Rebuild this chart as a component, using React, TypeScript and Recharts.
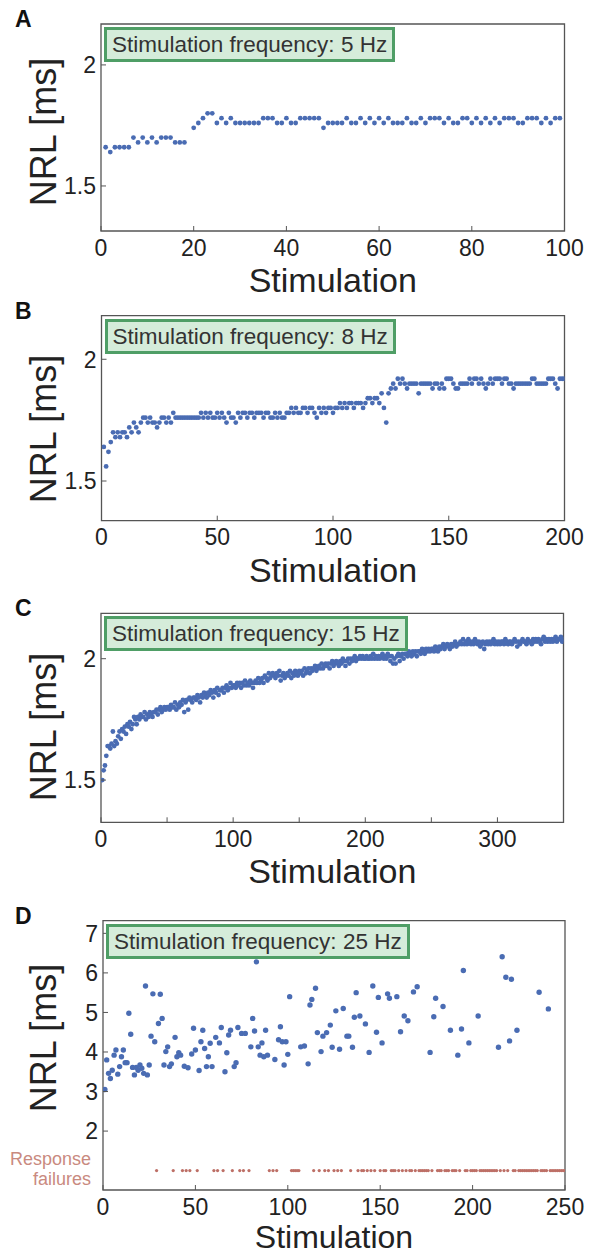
import { ScatterChart, Scatter, XAxis, YAxis, ReferenceArea } from "recharts";

const FONT = '"Liberation Sans", Arial, Helvetica, sans-serif';
const BLUE = "#4a6cb3";
const FAIL = "#bd6f66";
const FAIL_TEXT = "#c98a7f";
const FRAME = "#555";
const INK = "#222";

// Panel A: 5 Hz, NRL per stimulation (null = no point)
const nrl5Hz: (number | null)[] = [
  1.66, 1.64, 1.66, 1.66, 1.66, 1.66, 1.70, 1.68, 1.70, 1.68,
  1.70, 1.68, 1.70, 1.70, 1.70, 1.68, 1.68, 1.68, null, 1.74,
  1.76, 1.78, 1.80, 1.80, 1.76, 1.78, 1.76, 1.78, 1.76, 1.76,
  1.76, 1.76, 1.76, 1.76, 1.78, 1.78, 1.78, 1.76, 1.76, 1.78,
  1.76, 1.76, 1.78, 1.78, 1.78, 1.78, 1.78, 1.74, 1.76, 1.76,
  1.76, 1.76, 1.78, 1.76, 1.76, 1.78, 1.76, 1.78, 1.76, 1.78,
  1.76, 1.78, 1.76, 1.76, 1.76, 1.78, 1.76, 1.76, 1.78, 1.76,
  1.78, 1.78, 1.78, 1.76, 1.78, 1.76, 1.76, 1.78, 1.78, 1.76,
  1.78, 1.76, 1.78, 1.76, 1.78, 1.76, 1.78, 1.78, 1.78, 1.76,
  1.76, 1.78, 1.78, 1.78, 1.76, 1.78, 1.76, 1.78, 1.78,
];

// Panel B: 8 Hz
const nrl8Hz: number[] = [
  1.64, 1.56, 1.62, 1.66, 1.70, 1.68, 1.70, 1.68, 1.70, 1.70,
  1.68, 1.72, 1.70, 1.74, 1.72, 1.70, 1.74, 1.76, 1.76, 1.74,
  1.76, 1.74, 1.74, 1.72, 1.74, 1.76, 1.76, 1.74, 1.76, 1.74,
  1.78, 1.76, 1.76, 1.76, 1.76, 1.76, 1.76, 1.76, 1.76, 1.76,
  1.76, 1.76, 1.78, 1.76, 1.78, 1.76, 1.78, 1.76, 1.76, 1.78,
  1.76, 1.78, 1.76, 1.74, 1.78, 1.76, 1.76, 1.74, 1.78, 1.76,
  1.78, 1.78, 1.76, 1.78, 1.78, 1.76, 1.78, 1.78, 1.78, 1.76,
  1.78, 1.78, 1.76, 1.76, 1.78, 1.76, 1.78, 1.76, 1.76, 1.78,
  1.78, 1.80, 1.78, 1.80, 1.78, 1.78, 1.80, 1.80, 1.78, 1.80,
  1.80, 1.78, 1.76, 1.80, 1.78, 1.80, 1.78, 1.80, 1.80, 1.78,
  1.80, 1.80, 1.82, 1.80, 1.82, 1.80, 1.82, 1.82, 1.80, 1.82,
  1.82, 1.82, 1.80, 1.82, 1.84, 1.84, 1.82, 1.84, 1.84, 1.82,
  1.86, 1.80, 1.74, 1.86, 1.88, 1.90, 1.88, 1.92, 1.90, 1.92,
  1.90, 1.88, 1.90, 1.90, 1.90, 1.90, 1.86, 1.90, 1.90, 1.90,
  1.90, 1.90, 1.88, 1.90, 1.90, 1.88, 1.90, 1.88, 1.92, 1.92,
  1.92, 1.90, 1.88, 1.88, 1.90, 1.90, 1.90, 1.90, 1.92, 1.90,
  1.92, 1.92, 1.90, 1.92, 1.90, 1.88, 1.90, 1.92, 1.90, 1.92,
  1.92, 1.92, 1.90, 1.92, 1.92, 1.90, 1.90, 1.88, 1.90, 1.90,
  1.90, 1.90, 1.90, 1.90, 1.90, 1.92, 1.92, 1.90, 1.90, 1.90,
  1.90, 1.90, 1.92, 1.92, 1.92, 1.90, 1.88, 1.92, 1.92, 1.92,
];

// Panel C: 15 Hz
const nrl15Hz: number[] = [
  1.50, 1.54, 1.56, 1.60, 1.64, 1.64, 1.63, 1.65, 1.70, 1.64,
  1.66, 1.65, 1.68, 1.70, 1.67, 1.71, 1.70, 1.72, 1.69, 1.73,
  1.72, 1.74, 1.71, 1.73, 1.76, 1.75, 1.73, 1.76, 1.75, 1.77,
  1.76, 1.76, 1.78, 1.75, 1.77, 1.76, 1.78, 1.77, 1.76, 1.78,
  1.78, 1.79, 1.77, 1.79, 1.80, 1.78, 1.79, 1.80, 1.79, 1.80,
  1.80, 1.79, 1.81, 1.80, 1.80, 1.82, 1.79, 1.81, 1.80, 1.82,
  1.81, 1.83, 1.78, 1.82, 1.83, 1.79, 1.84, 1.83, 1.82, 1.84,
  1.84, 1.83, 1.85, 1.84, 1.82, 1.85, 1.84, 1.86, 1.85, 1.84,
  1.86, 1.85, 1.87, 1.86, 1.84, 1.87, 1.86, 1.88, 1.85, 1.87,
  1.87, 1.88, 1.86, 1.88, 1.89, 1.87, 1.88, 1.90, 1.88, 1.89,
  1.89, 1.88, 1.90, 1.89, 1.90, 1.88, 1.90, 1.89, 1.91, 1.89,
  1.90, 1.89, 1.91, 1.90, 1.88, 1.90, 1.91, 1.90, 1.92, 1.90,
  1.91, 1.92, 1.90, 1.93, 1.92, 1.91, 1.94, 1.92, 1.93, 1.94,
  1.93, 1.92, 1.94, 1.93, 1.95, 1.91, 1.93, 1.94, 1.92, 1.93,
  1.94, 1.93, 1.95, 1.92, 1.94, 1.93, 1.95, 1.94, 1.93, 1.95,
  1.94, 1.95, 1.93, 1.96, 1.94, 1.95, 1.96, 1.94, 1.96, 1.95,
  1.96, 1.97, 1.95, 1.96, 1.97, 1.96, 1.98, 1.96, 1.97, 1.98,
  1.97, 1.98, 1.96, 1.98, 1.99, 1.97, 1.98, 1.99, 1.98, 1.97,
  1.99, 1.98, 2.00, 1.99, 1.97, 1.99, 2.00, 1.98, 2.00, 1.99,
  2.00, 2.01, 1.99, 2.00, 2.00, 2.01, 2.00, 2.01, 2.00, 2.00,
  2.01, 2.00, 2.00, 2.01, 2.00, 2.02, 2.00, 2.01, 2.00, 2.01,
  2.00, 2.01, 2.02, 2.00, 2.01, 2.00, 2.02, 2.01, 1.99, 2.01,
  1.98, 2.00, 1.98, 2.01, 2.02, 1.99, 2.01, 2.02, 2.00, 2.02,
  2.02, 2.01, 2.03, 2.02, 2.01, 2.03, 2.02, 2.03, 2.01, 2.03,
  2.03, 2.02, 2.04, 2.03, 2.02, 2.04, 2.03, 2.04, 2.03, 2.04,
  2.04, 2.03, 2.05, 2.04, 2.03, 2.05, 2.04, 2.05, 2.06, 2.04,
  2.05, 2.06, 2.05, 2.04, 2.06, 2.05, 2.06, 2.07, 2.05, 2.06,
  2.06, 2.07, 2.06, 2.08, 2.06, 2.07, 2.06, 2.08, 2.07, 2.06,
  2.07, 2.06, 2.08, 2.07, 2.06, 2.07, 2.05, 2.06, 2.07, 2.04,
  2.06, 2.07, 2.06, 2.07, 2.06, 2.07, 2.08, 2.06, 2.07, 2.06,
  2.07, 2.06, 2.07, 2.07, 2.06, 2.08, 2.07, 2.06, 2.07, 2.07,
  2.06, 2.07, 2.08, 2.07, 2.05, 2.07, 2.06, 2.07, 2.08, 2.07,
  2.07, 2.06, 2.08, 2.07, 2.07, 2.06, 2.08, 2.07, 2.08, 2.07,
  2.08, 2.07, 2.06, 2.08, 2.09, 2.07, 2.08, 2.07, 2.08, 2.07,
  2.08, 2.07, 2.08, 2.09, 2.07, 2.08, 2.08, 2.09, 2.07, 2.08,
];

// Panel D: 25 Hz, responses (stimulation number, NRL) and failures
const stim25Hz = [
  1, 2, 3, 4, 5, 6, 7, 8, 9, 10, 11, 12, 13, 14, 15, 16, 17, 18, 19, 20,
  21, 22, 23, 24, 25, 26, 27, 28, 30, 31, 32, 33, 34, 35, 36, 37, 39, 40, 41, 42,
  44, 46, 48, 49, 50, 52, 53, 54, 55, 56, 57, 58, 59, 61, 63, 64, 66, 67, 68, 69,
  71, 72, 73, 75, 77, 80, 81, 82, 83, 84, 85, 86, 87, 88, 89, 93, 95, 96, 97, 98,
  99, 100, 101, 107, 109, 111, 112, 113, 115, 116, 118, 119, 121, 123, 124, 126, 128, 130, 132, 133,
  135, 136, 137, 139, 142, 144, 146, 148, 149, 151, 154, 155, 159, 161, 163, 165, 168, 170, 177, 179,
  180, 184, 188, 192, 194, 195, 198, 203, 214, 216, 218, 220, 221, 224, 236, 241,
];
const nrl25Hz = [
  3.05, 3.80, 3.46, 3.33, 3.54, 3.92, 4.05, 3.44, 3.63, 3.88, 4.05, 3.73, 3.73, 4.98, 4.45, 3.61, 3.42, 3.61, 3.54, 3.67,
  3.59, 3.46, 5.67, 3.42, 3.67, 4.40, 5.47, 4.26, 4.72, 5.46, 4.85, 3.67, 4.01, 4.13, 3.63, 3.70, 4.37, 3.88, 3.98, 3.92,
  3.64, 3.60, 3.95, 4.60, 4.05, 3.53, 4.26, 4.55, 4.09, 3.63, 3.88, 4.22, 3.63, 4.37, 4.23, 4.62, 3.50, 3.98, 4.43, 4.55,
  3.63, 3.73, 4.62, 4.47, 4.47, 4.13, 4.85, 4.53, 6.28, 4.13, 3.92, 4.23, 3.88, 4.55, 3.92, 3.81, 4.31, 4.64, 4.26, 3.67,
  4.26, 3.94, 5.40, 4.13, 4.15, 3.70, 5.19, 5.33, 5.61, 4.49, 4.01, 4.40, 4.49, 4.68, 4.12, 5.04, 4.07, 5.10, 4.40, 4.40,
  4.12, 4.88, 5.50, 4.91, 4.71, 3.99, 5.67, 4.50, 5.38, 4.23, 5.47, 5.36, 5.40, 4.51, 4.91, 4.79, 5.52, 5.65, 3.99, 4.89,
  5.36, 5.15, 4.55, 3.92, 4.58, 6.06, 4.23, 4.91, 4.12, 6.41, 5.89, 4.28, 5.84, 4.55, 5.51, 5.09,
];
const failures25Hz = [
  29, 38, 43, 45, 47, 51, 60, 62, 65, 70, 74, 76, 79, 90, 92, 94, 102, 103, 104, 105,
  106, 114, 117, 120, 122, 125, 127, 129, 134, 138, 140, 141, 143, 145, 147, 150, 152, 153, 156, 157,
  158, 160, 162, 164, 166, 167, 169, 171, 172, 173, 174, 175, 176, 178, 181, 182, 183, 185, 186, 187,
  189, 190, 191, 193, 196, 197, 199, 200, 201, 202, 204, 205, 206, 207, 208, 209, 210, 211, 212, 213,
  215, 217, 219, 222, 223, 225, 226, 227, 228, 229, 230, 231, 232, 233, 234, 235, 237, 238, 239, 240,
  242, 243, 244, 245, 246, 247, 248, 249, 250,
];
const FAILURE_LEVEL = 1;

type Pt = { x: number; y: number };

const seq = (vals: (number | null)[]): Pt[] =>
  vals.flatMap((v, i) => (v == null ? [] : [{ x: i + 1, y: v }]));

interface PanelCfg {
  letter: string;
  freq: string;
  top: number;
  height: number;
  plotTop: number;
  plotBottom: number;
  plotLeft: number;
  plotRight: number;
  xDomain: [number, number];
  yDomain: [number, number];
  xTicks: number[];
  xLabels: number[];
  yTicks: number[];
  nrlY: number;
  titleY: number;
  titleSize: number;
  r: number;
  points: Pt[];
  failures?: Pt[];
}

const panels: PanelCfg[] = [
  {
    letter: "A", freq: "5 Hz", top: 0, height: 300,
    plotTop: 24, plotBottom: 231, plotLeft: 101, plotRight: 564.5,
    xDomain: [0, 100], yDomain: [1.314, 2.169],
    xTicks: [0, 20, 40, 60, 80, 100], xLabels: [0, 20, 40, 60, 80, 100], yTicks: [1.5, 2],
    nrlY: 132, titleY: 292, titleSize: 34, r: 2.4, points: seq(nrl5Hz),
  },
  {
    letter: "B", freq: "8 Hz", top: 300, height: 300,
    plotTop: 315.7, plotBottom: 520.7, plotLeft: 101.5, plotRight: 564.5,
    xDomain: [0, 200], yDomain: [1.337, 2.179],
    xTicks: [0, 50, 100, 150, 200], xLabels: [0, 50, 100, 150, 200], yTicks: [1.5, 2],
    nrlY: 429, titleY: 581.5, titleSize: 34, r: 2.4, points: seq(nrl8Hz),
  },
  {
    letter: "C", freq: "15 Hz", top: 600, height: 300,
    plotTop: 613.3, plotBottom: 822.3, plotLeft: 101, plotRight: 563.5,
    xDomain: [0, 350], yDomain: [1.326, 2.187],
    xTicks: [0, 50, 100, 150, 200, 250, 300, 350], xLabels: [0, 100, 200, 300], yTicks: [1.5, 2],
    nrlY: 727, titleY: 883, titleSize: 34, r: 2.4, points: seq(nrl15Hz),
  },
  {
    letter: "D", freq: "25 Hz", top: 900, height: 355,
    plotTop: 920.7, plotBottom: 1190, plotLeft: 103, plotRight: 565,
    xDomain: [0, 250], yDomain: [0.51, 7.32],
    xTicks: [0, 50, 100, 150, 200, 250], xLabels: [0, 50, 100, 150, 200, 250], yTicks: [2, 3, 4, 5, 6, 7],
    nrlY: 1038, titleY: 1248, titleSize: 32, r: 2.7,
    points: stim25Hz.map((s, i) => ({ x: s, y: nrl25Hz[i] })),
    failures: failures25Hz.map((s) => ({ x: s, y: FAILURE_LEVEL })),
  },
];

const xTick = (labels: number[]) => (p: any) => {
  const v = p.payload.value;
  return (
    <g>
      <line x1={p.x} x2={p.x} y1={p.y} y2={p.y - 5} stroke={FRAME} strokeWidth={1} />
      {labels.includes(v) && (
        <text x={p.x} y={p.y + 24.5} textAnchor="middle" fontSize={23} fontFamily={FONT} fill={INK}>
          {v}
        </text>
      )}
    </g>
  );
};

const yTick = (p: any) => (
  <g>
    <line x1={p.x} x2={p.x + 5} y1={p.y} y2={p.y} stroke={FRAME} strokeWidth={1} />
    <text x={p.x - 5} y={p.y} dy="0.36em" textAnchor="end" fontSize={23} fontFamily={FONT} fill={INK}>
      {p.payload.value}
    </text>
  </g>
);

const dot = (fill: string, r: number) => (p: any) => <circle cx={p.cx} cy={p.cy} r={r} fill={fill} />;

function Panel({ c }: { c: PanelCfg }) {
  const mTop = c.plotTop - c.top;
  const xAxisH = c.height - (c.plotBottom - c.top);
  return (
    <div style={{ position: "absolute", left: 0, top: c.top, width: 589, height: c.height }}>
      <ScatterChart
        width={589}
        height={c.height}
        margin={{ top: mTop, right: 589 - c.plotRight, bottom: 0, left: 0 }}
      >
        <XAxis
          type="number" dataKey="x" domain={c.xDomain} ticks={c.xTicks} interval={0}
          height={xAxisH} axisLine={false} tickLine={false} tickSize={0} tickMargin={0}
          tick={xTick(c.xLabels)} allowDataOverflow
        />
        <YAxis
          type="number" dataKey="y" domain={c.yDomain} ticks={c.yTicks} interval={0}
          width={c.plotLeft} axisLine={false} tickLine={false} tickSize={0} tickMargin={0}
          tick={yTick} allowDataOverflow
        />
        <ReferenceArea
          x1={c.xDomain[0]} x2={c.xDomain[1]} y1={c.yDomain[0]} y2={c.yDomain[1]}
          fill="none" fillOpacity={0} stroke={FRAME} strokeWidth={1.3}
        />
        {c.failures && (
          <Scatter data={c.failures} isAnimationActive={false} shape={dot(FAIL, 1.6)} />
        )}
        <Scatter data={c.points} isAnimationActive={false} shape={dot(BLUE, c.r)} />
      </ScatterChart>

      <div
        style={{
          position: "absolute",
          left: c.plotLeft + 3,
          top: mTop + 3,
          border: "3px solid #4f9e66",
          background: "#d5ecda",
          padding: "0 5px",
          fontFamily: FONT,
          fontSize: 22.5,
          lineHeight: "29px",
          color: "#333",
          whiteSpace: "nowrap",
        }}
      >
        Stimulation frequency: {c.freq}
      </div>
    </div>
  );
}

// page-level labels: panel letters, axis titles, failure caption
function Labels() {
  return (
    <svg
      width={589}
      height={1255}
      style={{ position: "absolute", left: 0, top: 0, pointerEvents: "none" }}
      fontFamily={FONT}
    >
      {panels.map((c) => (
        <g key={c.letter}>
          <text x={15} y={c.plotTop + 3} fontSize={23} fontWeight="bold" fill="#111">
            {c.letter}
          </text>
          <text
            x={(c.plotLeft + c.plotRight) / 2} y={c.titleY}
            textAnchor="middle" fontSize={c.titleSize} fill={INK}
          >
            Stimulation
          </text>
          <g transform={`translate(43.5,${c.nrlY}) rotate(-90)`}>
            <text x={0} y={12.9} textAnchor="middle" fontSize={36} fill={INK}>
              NRL [ms]
            </text>
          </g>
          {c.failures && (
            <g fontSize={18} fill={FAIL_TEXT} textAnchor="end">
              <text x={c.plotLeft - 12} y={1165}>Response</text>
              <text x={c.plotLeft - 12} y={1185}>failures</text>
            </g>
          )}
        </g>
      ))}
    </svg>
  );
}

export default function App() {
  return (
    <div style={{ position: "absolute", left: 0, top: 0, width: 589, height: 1255, background: "#fff", overflow: "hidden" }}>
      {panels.map((p) => (
        <Panel key={p.letter} c={p} />
      ))}
      <Labels />
    </div>
  );
}
